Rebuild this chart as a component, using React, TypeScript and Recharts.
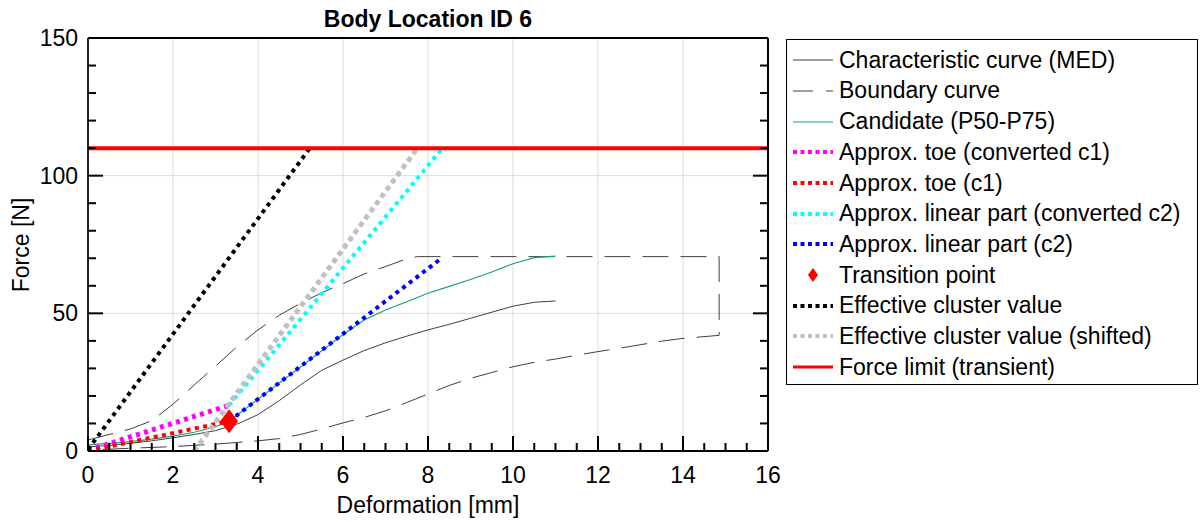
import React from 'react';
import { ComposedChart, Line, Scatter, XAxis, YAxis, CartesianGrid } from 'recharts';

// Axis ticks (major ones carry a label and a grid line, minor ones are marks only)
const X_TICKS = [0, 2, 4, 6, 8, 10, 12, 14, 16];
const X_ALL = [0, 0.5, 1, 1.5, 2, 2.5, 3, 3.5, 4, 4.5, 5, 5.5, 6, 6.5, 7, 7.5, 8, 8.5, 9, 9.5, 10, 10.5, 11, 11.5, 12, 12.5, 13, 13.5, 14, 14.5, 15, 15.5, 16];
const Y_TICKS = [0, 50, 100, 150];
const Y_ALL = [0, 10, 20, 30, 40, 50, 60, 70, 80, 90, 100, 110, 120, 130, 140, 150];

// Characteristic curve (MED)
const MED_X = [0, 0.5, 1, 1.5, 2, 2.5, 3, 3.5, 4, 4.5, 5, 5.5, 6, 6.5, 7, 7.5, 8, 8.5, 9, 9.5, 10, 10.5, 11];
const MED_Y = [1.5, 2, 2.8, 3.7, 4.8, 6, 7.4, 9.7, 13.2, 18.3, 24, 29.3, 33, 36.5, 39.3, 41.7, 44, 46, 48.2, 50.4, 52.6, 54, 54.5];

// Boundary curve: upper edge, cap, right edge, lower edge back to origin
const BOUND_X = [0, 0.5, 1, 1.5, 2, 2.5, 3, 3.5, 4, 4.5, 5, 5.5, 6, 6.5, 7, 7.5, 7.75, 14.85, 14.85, 14, 13.5, 13, 12.5, 12, 11.5, 11, 10.5, 10, 9.5, 9, 8.5, 8, 7.5, 7, 6.5, 6, 5.5, 5, 4.5, 4, 3, 2, 1, 0];
const BOUND_Y = [4, 6, 8, 11, 17, 24, 30.8, 37.8, 44, 49.3, 53.6, 57.5, 60.8, 64.3, 67, 69.8, 70.6, 70.6, 42, 40.9, 39.9, 38.6, 37.3, 36.1, 34.8, 33.4, 32.2, 30.6, 28.5, 26.4, 23.8, 20.7, 17.6, 14.6, 12.2, 10.2, 8, 6, 4.5, 3.7, 2.5, 1.6, 1, 0.3];

// Candidate (P50-P75)
const CAND_X = [0, 0.5, 1, 1.5, 2, 2.5, 3, 3.32, 4, 4.5, 5, 5.5, 6, 6.5, 7, 7.5, 8, 8.5, 9, 9.5, 10, 10.5, 11];
const CAND_Y = [2.2, 2.8, 3.4, 4.3, 5.4, 6.8, 8.8, 10.8, 18.8, 24.7, 30.5, 36.4, 42.3, 47.6, 51.2, 54.2, 57.3, 59.8, 62.3, 65, 68, 70.2, 70.8];

// Approximations
const TOE_CONV_X = [0, 3.32];
const TOE_CONV_Y = [0.2, 16.6];
const TOE_X = [0, 3.32];
const TOE_Y = [0, 10.8];
const LIN_CONV_X = [3.32, 8.34];
const LIN_CONV_Y = [16.6, 110];
const LIN_X = [3.32, 8.3];
const LIN_Y = [10.8, 69.8];

// Transition point
const TRANS_X = [3.32];
const TRANS_Y = [10.8];

// Effective cluster value and its shifted copy
const EFF_X = [0, 5.22];
const EFF_Y = [0.5, 110];
const EFF_SHIFT_X = [2.5, 7.75];
const EFF_SHIFT_Y = [0, 110];

// Force limit (transient)
const LIMIT_X = [0, 16];
const LIMIT_Y = [110, 110];

const pts = (xs: number[], ys: number[]) => xs.map((x, i) => ({ x, y: ys[i] }));

const FONT = '"Liberation Sans", Arial, sans-serif';
const DOT = '4 4.4';
const MAJOR = 15;
const MINOR = 8;

const Diamond = (props: any) => {
  const { cx, cy } = props;
  return <path d={`M${cx},${cy - 12} L${cx + 9},${cy} L${cx},${cy + 12} L${cx - 9},${cy} Z`} fill="#ff0000" />;
};

// tick marks point into the plot; majors are longer and labelled on bottom/left
const BottomTick = (props: any) => {
  const { x, y, payload } = props;
  const major = X_TICKS.includes(payload.value);
  return (
    <g>
      <line x1={x} x2={x} y1={y} y2={y - (major ? MAJOR : MINOR)} stroke="#000" strokeWidth={2} />
      {major && (
        <text x={x} y={y + 16} dy="0.71em" textAnchor="middle" fontSize={23} fill="#000" fontFamily={FONT}>{payload.value}</text>
      )}
    </g>
  );
};

const TopTick = (props: any) => {
  const { x, y, payload } = props;
  const major = X_TICKS.includes(payload.value);
  return <line x1={x} x2={x} y1={y} y2={y + (major ? MAJOR : MINOR)} stroke="#000" strokeWidth={2} />;
};

const LeftTick = (props: any) => {
  const { x, y, payload } = props;
  const major = Y_TICKS.includes(payload.value);
  return (
    <g>
      <line x1={x} x2={x + (major ? MAJOR : MINOR)} y1={y} y2={y} stroke="#000" strokeWidth={2} />
      {major && (
        <text x={x - 10} y={y} dy="0.355em" textAnchor="end" fontSize={23} fill="#000" fontFamily={FONT}>{payload.value}</text>
      )}
    </g>
  );
};

const RightTick = (props: any) => {
  const { x, y, payload } = props;
  const major = Y_TICKS.includes(payload.value);
  return <line x1={x} x2={x - (major ? MAJOR : MINOR)} y1={y} y2={y} stroke="#000" strokeWidth={2} />;
};

const LEGEND = [
  { name: 'Characteristic curve (MED)', color: '#404040', width: 1, dash: undefined as string | undefined },
  { name: 'Boundary curve', color: '#404040', width: 1, dash: '20 13' },
  { name: 'Candidate (P50-P75)', color: '#1b9e7f', width: 1, dash: undefined },
  { name: 'Approx. toe (converted c1)', color: '#ff00ff', width: 4, dash: '4 3.5' },
  { name: 'Approx. toe (c1)', color: '#ff0000', width: 4, dash: '4 3.5' },
  { name: 'Approx. linear part (converted c2)', color: '#00ffff', width: 4, dash: '4 3.5' },
  { name: 'Approx. linear part (c2)', color: '#0000ff', width: 4, dash: '4 3.5' },
  { name: 'Transition point', color: '#ff0000', width: 0, dash: 'marker' },
  { name: 'Effective cluster value', color: '#000000', width: 4, dash: '4 3.5' },
  { name: 'Effective cluster value (shifted)', color: '#c0c0c0', width: 4, dash: '4 3.5' },
  { name: 'Force limit (transient)', color: '#ff0000', width: 3, dash: undefined },
];

export default function App() {
  const common = { xAxisId: 'x', yAxisId: 'y', dot: false, isAnimationActive: false, type: 'linear' as const, dataKey: 'y', legendType: 'none' as const };
  const frame = { stroke: '#000', strokeWidth: 2 };
  return (
    <div style={{ position: 'absolute', left: 0, top: 0, width: 1202, height: 522, background: '#fff', fontFamily: FONT }}>
      <ComposedChart width={1202} height={522} margin={{ top: 37, left: 87, right: 433, bottom: 70 }} style={{ fontFamily: FONT }}>
        <CartesianGrid xAxisId="x" yAxisId="y" stroke="#dcdcdc" strokeWidth={1}
          verticalValues={X_TICKS} horizontalValues={Y_TICKS} />
        <XAxis xAxisId="x" type="number" dataKey="x" domain={[0, 16]} ticks={X_ALL} interval={0} allowDataOverflow
          height={1} tickLine={false} tickSize={0} tickMargin={0} axisLine={frame} tick={<BottomTick />} />
        <XAxis xAxisId="xt" orientation="top" type="number" domain={[0, 16]} ticks={X_ALL} interval={0} allowDataOverflow
          height={1} tickLine={false} tickSize={0} tickMargin={0} axisLine={frame} tick={<TopTick />} />
        <YAxis yAxisId="y" type="number" dataKey="y" domain={[0, 150]} ticks={Y_ALL} interval={0} allowDataOverflow
          width={1} tickLine={false} tickSize={0} tickMargin={0} axisLine={{ stroke: '#222', strokeWidth: 2 }} tick={<LeftTick />} />
        <YAxis yAxisId="yr" orientation="right" type="number" domain={[0, 150]} ticks={Y_ALL} interval={0} allowDataOverflow
          width={1} tickLine={false} tickSize={0} tickMargin={0} axisLine={frame} tick={<RightTick />} />

        <Line {...common} data={pts(MED_X, MED_Y)} stroke="#404040" strokeWidth={1} />
        <Line {...common} data={pts(BOUND_X, BOUND_Y)} stroke="#404040" strokeWidth={1} strokeDasharray="26 12" />
        <Line {...common} data={pts(CAND_X, CAND_Y)} stroke="#1b9e7f" strokeWidth={1.2} />
        <Line {...common} data={pts(TOE_CONV_X, TOE_CONV_Y)} stroke="#ff00ff" strokeWidth={5} strokeDasharray={DOT} />
        <Line {...common} data={pts(TOE_X, TOE_Y)} stroke="#ff0000" strokeWidth={4} strokeDasharray={DOT} />
        <Line {...common} data={pts(LIN_CONV_X, LIN_CONV_Y)} stroke="#00ffff" strokeWidth={4} strokeDasharray={DOT} />
        <Line {...common} data={pts(LIN_X, LIN_Y)} stroke="#0000ff" strokeWidth={4} strokeDasharray={DOT} />
        <Scatter xAxisId="x" yAxisId="y" data={pts(TRANS_X, TRANS_Y)} dataKey="y" shape={Diamond} isAnimationActive={false} legendType="none" />
        <Line {...common} data={pts(EFF_X, EFF_Y)} stroke="#000000" strokeWidth={4} strokeDasharray={DOT} />
        <Line {...common} data={pts(EFF_SHIFT_X, EFF_SHIFT_Y)} stroke="#c0c0c0" strokeWidth={5} strokeDasharray="5 4" />
        <Line {...common} data={pts(LIMIT_X, LIMIT_Y)} stroke="#ff0000" strokeWidth={4} />
      </ComposedChart>

      {/* title and axis labels */}
      <div style={{ position: 'absolute', left: 88, width: 680, top: 5, textAlign: 'center', fontWeight: 'bold', fontSize: 23, lineHeight: '28px' }}>
        Body Location ID 6
      </div>
      <div style={{ position: 'absolute', left: 88, width: 680, top: 490, textAlign: 'center', fontSize: 23, lineHeight: '30px' }}>
        Deformation [mm]
      </div>
      <div style={{ position: 'absolute', left: 21, top: 245, transform: 'translate(-50%, -50%) rotate(-90deg)', fontSize: 23, lineHeight: '28px', whiteSpace: 'nowrap' }}>
        Force [N]
      </div>

      {/* legend */}
      <div style={{ position: 'absolute', left: 786, top: 39, width: 410, height: 344, border: '1.5px solid #000', background: '#fff' }}>
        {LEGEND.map((item, i) => (
          <div key={item.name} style={{ position: 'absolute', left: 0, top: 5 + i * 30.67, height: 30.67, display: 'flex', alignItems: 'center' }}>
            <svg width={52} height={30} style={{ flex: 'none' }}>
              {item.dash === 'marker' ? (
                <path d="M26,8 L31,15 L26,22 L21,15 Z" fill={item.color} />
              ) : (
                <line x1={6} x2={46} y1={15} y2={15} stroke={item.color} strokeWidth={item.width} strokeDasharray={item.dash} />
              )}
            </svg>
            <span style={{ fontSize: 23, whiteSpace: 'nowrap', color: '#000' }}>{item.name}</span>
          </div>
        ))}
      </div>
    </div>
  );
}
